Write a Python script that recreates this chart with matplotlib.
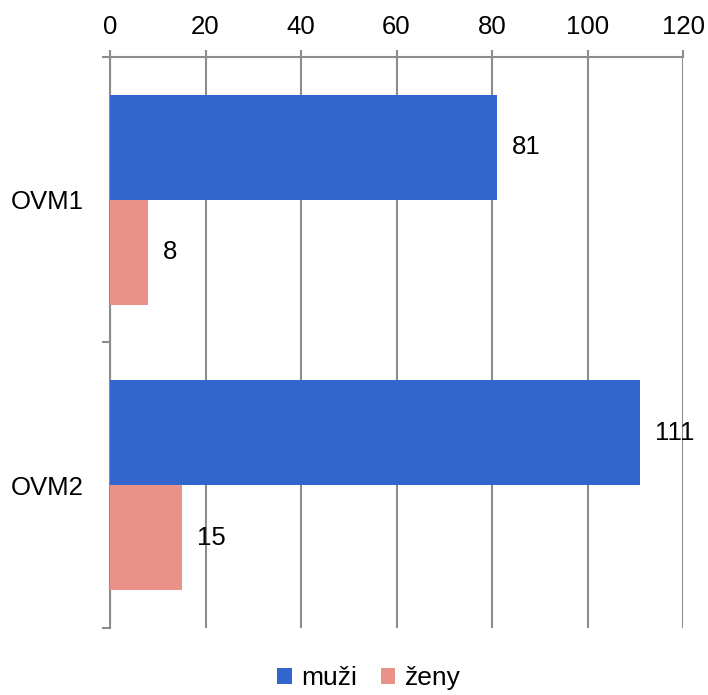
import matplotlib.pyplot as plt
import numpy as np

plt.rcParams['font.family'] = ['Liberation Sans', 'DejaVu Sans']

categories = ['OVM1', 'OVM2']
muzi = [81, 111]
zeny = [8, 15]
xticks = [0, 20, 40, 60, 80, 100, 120]

blue = '#3366cc'
pink = '#e8928a'
grid = '#8c8c8c'

fig = plt.figure(figsize=(7.08, 6.95), dpi=100)
ax = fig.add_axes([0.1554, 0.0964, 0.8093, 0.8216])

y = np.arange(len(categories))
h = 0.368
b1 = ax.barh(y - h / 2, muzi, height=h, color=blue, label='muži', zorder=3)
b2 = ax.barh(y + h / 2, zeny, height=h, color=pink, label='ženy', zorder=3)

# value labels right of each bar
for bars, vals in ((b1, muzi), (b2, zeny)):
    for bar, v in zip(bars, vals):
        ax.annotate(str(v), (bar.get_width(), bar.get_y() + bar.get_height() / 2),
                    xytext=(15, 0), textcoords='offset pixels',
                    ha='left', va='center', fontsize=18.5)

ax.set_xlim(0, 120)
ax.set_ylim(1.5, -0.5)
ax.xaxis.tick_top()
ax.set_xticks(xticks)
ax.tick_params(axis='x', length=5, width=1.5, color=grid, labelsize=18.5, pad=8)
ax.set_yticks(y)
ax.set_yticklabels(categories)
ax.set_yticks([-0.5, 0.5, 1.5], minor=True)
ax.tick_params(axis='y', which='major', length=0, labelsize=18.5, pad=19)
ax.tick_params(axis='y', which='minor', length=6, width=1.5, color=grid)
ax.grid(axis='x', color=grid, linewidth=1.5, zorder=0)

for s in ('right', 'bottom'):
    ax.spines[s].set_visible(False)
for s in ('top', 'left'):
    ax.spines[s].set_color(grid)
    ax.spines[s].set_linewidth(1.5)

fig.legend(handles=[b1, b2], loc='lower center', bbox_to_anchor=(0.521, -0.027), ncol=2,
           frameon=False, fontsize=19, handlelength=0.55, handleheight=0.55,
           handletextpad=0.35, columnspacing=0.9)

fig.savefig('out.png', dpi=100)
